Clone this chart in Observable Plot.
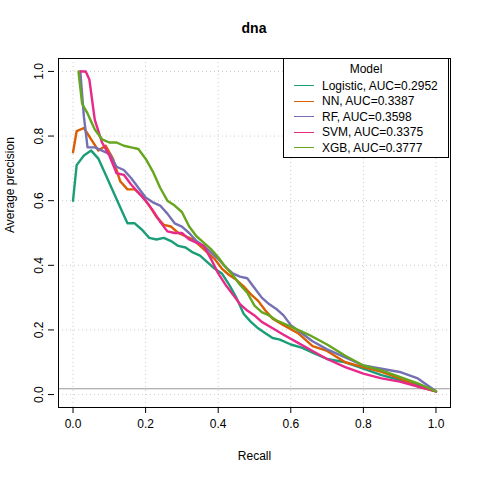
<!DOCTYPE html>
<html><head><meta charset="utf-8">
<script src="https://cdn.jsdelivr.net/npm/d3@7"></script>
<script src="https://cdn.jsdelivr.net/npm/@observablehq/plot@0.6"></script>
<style>
body{margin:0;background:#fff;font-family:"Liberation Sans",Arial,sans-serif}
#wrap{position:relative;width:480px;height:480px}
#title{position:absolute;top:20px;left:58px;width:392px;text-align:center;font-weight:bold;font-size:14px}
#legend{position:absolute;left:283px;top:58px;width:166px;height:100px;border:1px solid #000;background:#fff;font-size:12px;box-sizing:border-box}
#legend .h{text-align:center;margin-top:3px;margin-bottom:2px}
#legend .r{display:flex;align-items:center;height:15.5px}
#legend .s{width:20px;height:0;border-top:1.2px solid;margin:0 8px 0 10px}
</style></head>
<body><div id="wrap"><div id="title">dna</div><div id="chart"></div><div id="legend"></div></div>
<script>
const models = ["Logistic","NN","RF","SVM","XGB"]
const aucs = ["0.2952","0.3387","0.3598","0.3375","0.3777"]
const colors = ["#1B9E77","#D95F02","#7570B3","#E7298A","#66A61E"]
const logistic = [[0,0.6],[0.01,0.71],[0.03,0.74],[0.05,0.755],[0.07,0.73],[0.09,0.68],[0.11,0.63],[0.13,0.58],[0.15,0.53],[0.17,0.53],[0.19,0.51],[0.21,0.485],[0.23,0.48],[0.25,0.485],[0.27,0.475],[0.29,0.46],[0.31,0.455],[0.33,0.44],[0.35,0.43],[0.37,0.41],[0.39,0.39],[0.41,0.375],[0.43,0.34],[0.45,0.30],[0.47,0.25],[0.49,0.225],[0.51,0.205],[0.53,0.19],[0.55,0.175],[0.57,0.17],[0.6,0.155],[0.63,0.145],[0.66,0.13],[0.7,0.11],[0.75,0.10],[0.8,0.08],[0.85,0.06],[0.9,0.045],[0.95,0.03],[1,0.01]]
const nn = [[0,0.75],[0.01,0.815],[0.03,0.825],[0.05,0.79],[0.07,0.755],[0.09,0.77],[0.11,0.73],[0.13,0.66],[0.15,0.635],[0.17,0.635],[0.19,0.615],[0.21,0.585],[0.23,0.55],[0.25,0.525],[0.27,0.52],[0.29,0.5],[0.31,0.49],[0.33,0.48],[0.35,0.46],[0.37,0.44],[0.39,0.42],[0.41,0.39],[0.43,0.37],[0.45,0.355],[0.47,0.335],[0.49,0.31],[0.51,0.29],[0.53,0.26],[0.55,0.235],[0.58,0.215],[0.62,0.19],[0.66,0.15],[0.7,0.135],[0.75,0.10],[0.8,0.085],[0.85,0.07],[0.9,0.05],[0.95,0.025],[1,0.01]]
const rf = [[0.02,1.0],[0.03,0.86],[0.04,0.765],[0.06,0.765],[0.08,0.755],[0.1,0.745],[0.12,0.705],[0.14,0.695],[0.16,0.67],[0.18,0.64],[0.2,0.61],[0.22,0.595],[0.24,0.585],[0.26,0.56],[0.28,0.53],[0.3,0.52],[0.32,0.5],[0.34,0.475],[0.36,0.46],[0.38,0.44],[0.4,0.42],[0.42,0.395],[0.44,0.375],[0.46,0.365],[0.48,0.36],[0.5,0.33],[0.52,0.30],[0.54,0.28],[0.56,0.265],[0.58,0.245],[0.6,0.215],[0.63,0.19],[0.66,0.165],[0.7,0.14],[0.75,0.115],[0.8,0.09],[0.85,0.08],[0.9,0.07],[0.95,0.05],[1,0.01]]
const svm = [[0.02,1.0],[0.035,1.0],[0.045,0.975],[0.06,0.85],[0.08,0.78],[0.1,0.74],[0.12,0.685],[0.14,0.68],[0.16,0.65],[0.18,0.625],[0.2,0.6],[0.22,0.57],[0.24,0.535],[0.26,0.505],[0.28,0.5],[0.3,0.5],[0.32,0.48],[0.34,0.47],[0.36,0.46],[0.38,0.42],[0.4,0.375],[0.42,0.34],[0.44,0.31],[0.46,0.28],[0.48,0.26],[0.5,0.245],[0.52,0.225],[0.55,0.205],[0.58,0.185],[0.62,0.16],[0.66,0.135],[0.7,0.11],[0.75,0.085],[0.8,0.065],[0.85,0.05],[0.9,0.04],[0.95,0.025],[1,0.01]]
const xgb = [[0.015,1.0],[0.025,0.9],[0.04,0.87],[0.06,0.82],[0.08,0.79],[0.1,0.78],[0.12,0.78],[0.14,0.77],[0.16,0.765],[0.18,0.76],[0.2,0.73],[0.22,0.69],[0.24,0.64],[0.26,0.6],[0.28,0.585],[0.3,0.565],[0.32,0.52],[0.34,0.49],[0.36,0.47],[0.38,0.45],[0.4,0.425],[0.42,0.395],[0.44,0.37],[0.46,0.34],[0.48,0.315],[0.5,0.275],[0.52,0.255],[0.54,0.245],[0.56,0.23],[0.6,0.21],[0.65,0.185],[0.7,0.155],[0.75,0.12],[0.8,0.09],[0.85,0.075],[0.9,0.055],[0.95,0.035],[1,0.01]]
const baseline = 0.018
const ticks = [0, 0.2, 0.4, 0.6, 0.8, 1.0]

const series = [logistic, nn, rf, svm, xgb]
const rows = series.flatMap((s, i) => s.map(([x, y]) => ({x, y, model: models[i]})))

const chart = Plot.plot({
  width: 480, height: 480,
  marginLeft: 58, marginRight: 30, marginTop: 58, marginBottom: 73,
  style: {fontFamily: "Liberation Sans, Arial, sans-serif", fontSize: "12px", color: "#000"},
  x: {domain: [-0.04, 1.04], ticks, tickFormat: d3.format(".1f"), label: null},
  y: {domain: [-0.04, 1.04], ticks, tickFormat: d3.format(".1f"), label: null},
  color: {domain: models, range: colors},
  marks: [
    Plot.gridX(ticks, {stroke: "#ccc", strokeOpacity: 1, strokeDasharray: "1,3"}),
    Plot.gridY(ticks, {stroke: "#ccc", strokeOpacity: 1, strokeDasharray: "1,3"}),
    Plot.ruleY([baseline], {stroke: "#999", strokeWidth: 1.2}),
    Plot.line(rows, {x: "x", y: "y", z: "model", stroke: "model", strokeWidth: 2.4}),
    Plot.frame({stroke: "#000"}),
    Plot.axisX({ticks, tickFormat: d3.format(".1f"), tickSize: 6, tickPadding: 6, fontSize: 12}),
    Plot.axisY({ticks, tickFormat: d3.format(".1f"), tickSize: 6, tickRotate: -90, textAnchor: "middle", dx: -4, tickPadding: 6, fontSize: 12}),
    Plot.text(["Recall"], {frameAnchor: "bottom", dy: 52, fontSize: 12}),
    Plot.text(["Average precision"], {frameAnchor: "left", dx: -48, rotate: -90, fontSize: 12})
  ]
})
document.getElementById("chart").append(chart)

const lg = document.getElementById("legend")
lg.innerHTML = `<div class="h">Model</div>` + models.map((m, i) =>
  `<div class="r"><span class="s" style="border-color:${colors[i]}"></span>${m}, AUC=${aucs[i]}</div>`).join("")
</script></body></html>
